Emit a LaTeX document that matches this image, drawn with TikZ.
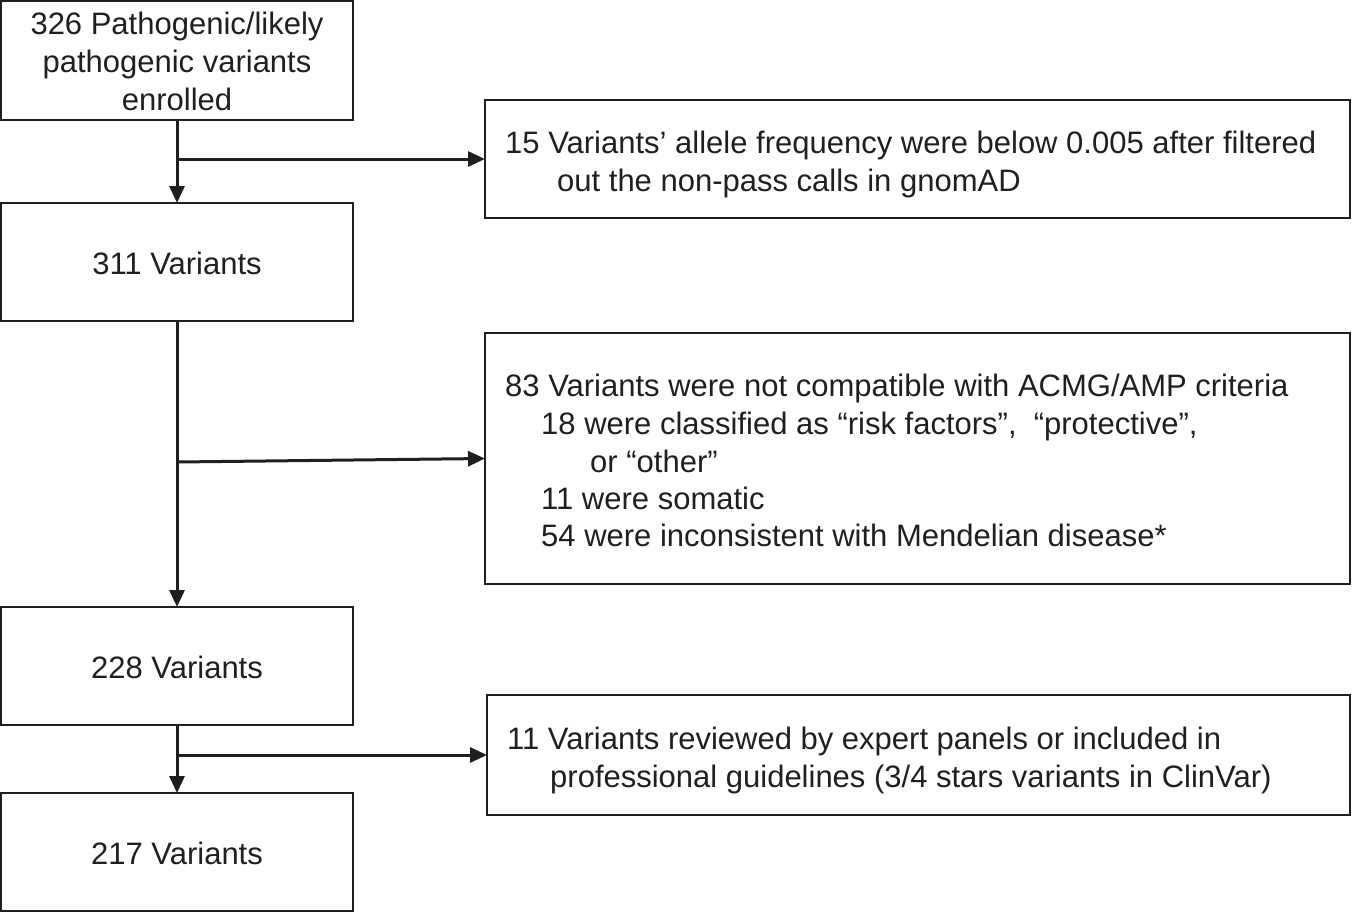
\documentclass[tikz,border=0pt]{standalone}
\usepackage{fontspec}
\setmainfont{Liberation Sans}
\usetikzlibrary{arrows.meta}
\begin{document}
\begin{tikzpicture}[x=1pt,y=-1pt,
  every node/.style={font=\fontsize{31}{38}\selectfont, text=black!88},
  box/.style={draw=black!88, line width=2.8pt, inner sep=0pt, outer sep=0pt},
  ctr/.style={anchor=base, inner sep=0pt},
  lbl/.style={anchor=base west, inner sep=0pt},
  arr/.style={draw=black!88, line width=3pt, -{Triangle[length=17pt,width=15pt]}}]
\useasboundingbox (0,0) rectangle (1352,913);
% left column
\node[box, minimum width=352pt, minimum height=119pt] (b1) at (177,60.5) {};
\node[box, minimum width=352pt, minimum height=118pt] (b2) at (177,262) {};
\node[box, minimum width=352pt, minimum height=118pt] (b3) at (177,666) {};
\node[box, minimum width=352pt, minimum height=118pt] (b4) at (177,852) {};
\node[ctr] (t11) at (177,34) {326 Pathogenic/likely};
\node[ctr] (t12) at (177,72) {pathogenic variants};
\node[ctr] (t13) at (177,110) {enrolled};
\node[ctr] (t2) at (177,274) {311 Variants};
\node[ctr] (t3) at (177,678) {228 Variants};
\node[ctr] (t4) at (177,864) {217 Variants};
% right column
\node[box, minimum width=865pt, minimum height=118pt] (ra) at (917.5,159) {};
\node[box, minimum width=865pt, minimum height=251pt] (rb) at (917.5,458.5) {};
\node[box, minimum width=863pt, minimum height=120pt] (rc) at (918.5,755) {};
% texts in right boxes
\node[lbl] (ta1) at (505,153) {15 Variants’ allele frequency were below 0.005 after filtered};
\node[lbl] (ta2) at (557,191) {out the non-pass calls in gnomAD};
\node[lbl] (tb1) at (505,396) {83 Variants were not compatible with ACMG/AMP criteria};
\node[lbl] (tb2) at (541,434) {18 were classified as “risk factors”,\ \ “protective”,};
\node[lbl] (tb3) at (590,472) {or “other”};
\node[lbl] (tb4) at (541,509) {11 were somatic};
\node[lbl] (tb5) at (541,546) {54 were inconsistent with Mendelian disease*};
\node[lbl] (tc1) at (507,749) {11 Variants reviewed by expert panels or included in};
\node[lbl] (tc2) at (550,787) {professional guidelines (3/4 stars variants in ClinVar)};
% connectors
\draw[arr] (b1.south) -- (b2.north);
\draw[arr] (b2.south) -- (b3.north);
\draw[arr] (b3.south) -- (b4.north);
\coordinate (ja) at (b1.south |- ra.west);
\coordinate (jb) at (177,462);
\coordinate (jc) at (b3.south |- rc.west);
\draw[arr] (ja) -- (ra.west);
\draw[arr] (jb) -- (rb.west);
\draw[arr] (jc) -- (rc.west);
\end{tikzpicture}
\end{document}
